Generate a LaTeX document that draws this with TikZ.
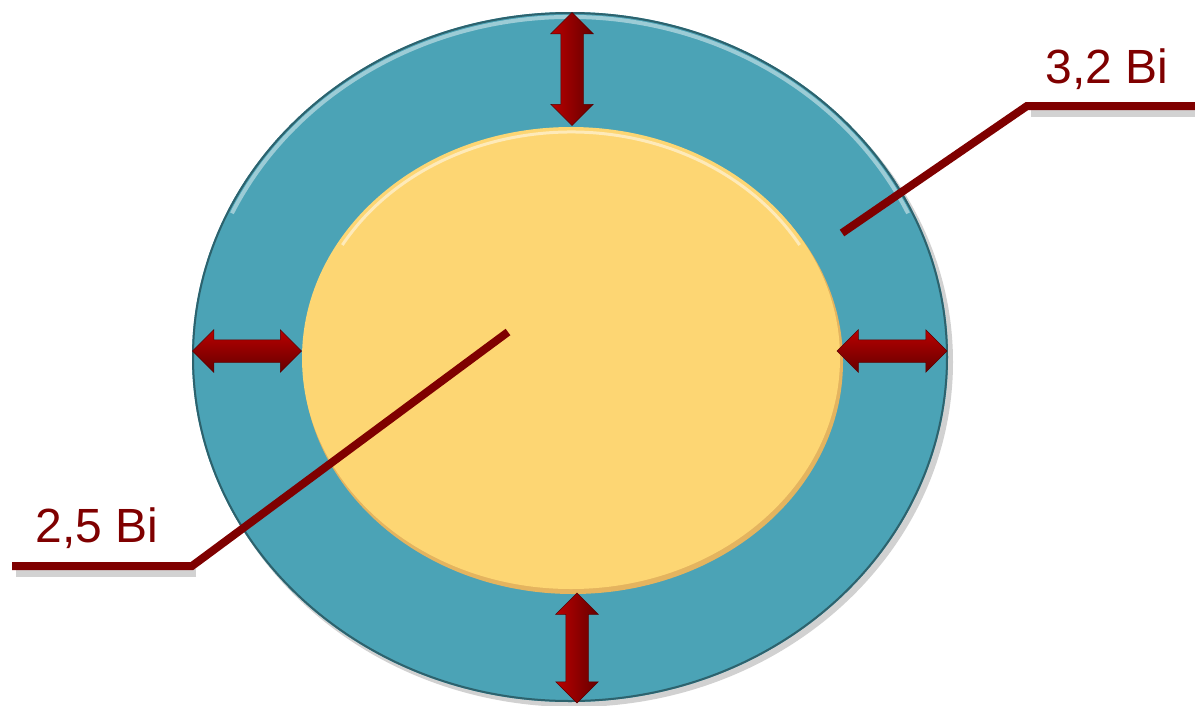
\documentclass[tikz,border=0pt]{standalone}
\usepackage{fontspec}
\setmainfont{Liberation Sans}
\usetikzlibrary{shapes.arrows}
\usetikzlibrary{positioning}

\definecolor{ringteal}{HTML}{4BA3B6}
\definecolor{coreyellow}{HTML}{FDD673}
\definecolor{leadred}{HTML}{7F0000}

\tikzset{
  dblarrow/.style={double arrow,draw=leadred!70!black,line width=0.5pt,
    minimum height=#1,inner xsep=0pt,inner ysep=11pt,
    double arrow head extend=10pt},
  flatarrow/.style={dblarrow=#1,top color=red!45!leadred,bottom color=leadred!80!black},
  uprarrow/.style={dblarrow=#1,rotate=90,left color=red!45!leadred,right color=leadred!80!black},
  leader/.style={leadred,line width=8pt},
  shadowline/.style={black!35,line width=8pt,opacity=0.5},
  label/.style={text=leadred,font=\fontsize{48}{52}\selectfont,inner sep=0pt}}

\begin{document}
\begin{tikzpicture}[x=1pt,y=-1pt]
\useasboundingbox (0,0) rectangle (1195,705);
% rings
\fill[black,opacity=0.18] (574,362) ellipse [x radius=379,y radius=345];
\fill[ringteal] (570,357) ellipse [x radius=378,y radius=345];
\draw[ringteal!60!black,line width=2pt] (570,357) ellipse [x radius=377,y radius=344];
\draw[white,opacity=0.45,line width=4pt]
  (570,357) ++(205:373 and 340) arc [start angle=205,end angle=335,x radius=373,y radius=340];
\fill[coreyellow!60!brown] (573,362) ellipse [x radius=270,y radius=232];
\fill[coreyellow] (571,358) ellipse [x radius=269,y radius=231];
\draw[white,opacity=0.5,line width=3pt]
  (571,358) ++(210:264 and 226) arc [start angle=210,end angle=330,x radius=264,y radius=226];
% arrows
\node[uprarrow=113pt] (up) at (572,69) {};
\node[uprarrow=110pt] (down) at (577,648) {};
\node[flatarrow=109pt] (left) at (247,351) {};
\node[flatarrow=110pt] (right) at (892,351) {};
% leader lines
\coordinate (inA) at (842,233);
\coordinate (kneeA) at (1027,106);
\coordinate (endA) at (1195,106);
\coordinate (inB) at (508,332);
\coordinate (kneeB) at (192,566);
\coordinate (endB) at (12,566);
\draw[shadowline] ([shift={(4,7)}]kneeA) -- ([shift={(0,7)}]endA);
\draw[shadowline] ([shift={(4,7)}]kneeB) -- ([shift={(4,7)}]endB);
\draw[leader] (inA) -- (kneeA) -- (endA);
\draw[leader] (inB) -- (kneeB) -- (endB);
\node[label] (outer) at (1107,69) {3,2 Bi};
\node[label] (inner) at (97,528) {2,5 Bi};
\end{tikzpicture}
\end{document}
